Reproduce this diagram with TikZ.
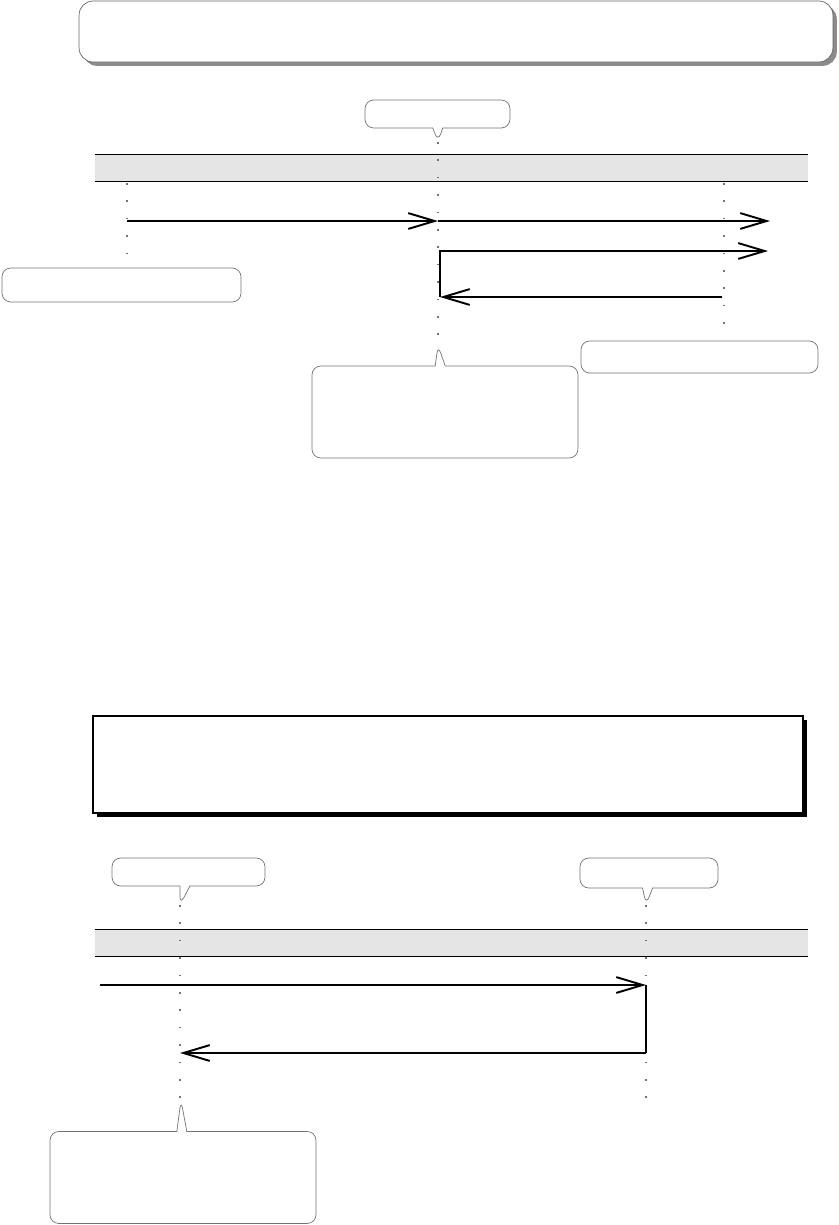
\documentclass[tikz,border=0pt]{standalone}
\usepackage{tikz}
\usetikzlibrary{positioning,arrows.meta,shapes.callouts,shadows}

\begin{document}
\begin{tikzpicture}[
  x=0.02cm, y=-0.02cm,
  banner/.style={draw=black!60, fill=white, rounded corners=8pt, inner sep=0pt,
                 drop shadow={shadow xshift=2.2pt, shadow yshift=-2.2pt, fill=black!45, opacity=1}},
  plainbox/.style={draw=black, line width=0.7pt, fill=white, inner sep=0pt,
                   drop shadow={shadow xshift=2.4pt, shadow yshift=-2.4pt, fill=black, opacity=1}},
  note/.style={draw=black!55, fill=white, rounded corners=5pt, inner sep=0pt},
  callnote/.style={note, rectangle callout, callout pointer width=0.2cm},
  band/.style={fill=black!10, inner sep=0pt},
  life/.style={draw=black!55, line width=0.9pt, dash pattern=on 0.9pt off 9pt},
  msg/.style={-{Straight Barb[length=15pt,width=9pt,line width=1.1pt]}, line width=1.3pt},
  >=Stealth,
]
\useasboundingbox (0,0) rectangle (839,1225);

% ---- upper diagram
\node[banner, minimum width=15.08cm, minimum height=1.22cm] (title) at (456,31.5) {};

\coordinate (tipB) at (438,142);
\node[callnote, callout absolute pointer={(tipB)}, minimum width=2.9cm, minimum height=0.56cm] (noteB) at (437.5,114) {};

\node[band, minimum width=14.26cm, minimum height=0.52cm] (band1) at (451.5,168) {};
\draw[line width=0.9pt] (band1.north west) -- (band1.north east);
\draw[line width=0.9pt] (band1.south west) -- (band1.south east);

\coordinate (la0) at (127,183); \coordinate (la1) at (127,265);
\coordinate (lb0) at (438,142); \coordinate (lb1) at (438,345);
\coordinate (lc0) at (724,183); \coordinate (lc1) at (724,338);
\draw[life] (la0) -- (la1);
\draw[life] (lb0) -- (lb1);
\draw[life] (lc0) -- (lc1);

\node[note, minimum width=4.78cm, minimum height=0.68cm] (noteA) at (121.5,285) {};
\node[note, minimum width=4.74cm, minimum height=0.64cm] (noteC) at (699.5,357) {};
\node[callnote, callout absolute pointer={(lb1)}, minimum width=5.32cm, minimum height=1.84cm] (noteD) at (445,412) {};

\coordinate (a1) at (127,221); \coordinate (b1) at (438,221); \coordinate (out1) at (770,221);
\coordinate (b2) at (440,297); \coordinate (out2) at (768,251); \coordinate (c2) at (722,297);
\draw[msg] (a1) -- (b1);
\draw[msg] (b1) -- (out1);
\draw[msg] (b2) |- (out2);
\draw[msg] (c2) -- (b2);

% ---- lower diagram
\node[plainbox, minimum width=14.2cm, minimum height=1.94cm] (box2) at (448,764.5) {};

\coordinate (tipE) at (180,905); \coordinate (tipF) at (646,905);
\node[callnote, callout absolute pointer={(tipE)}, minimum width=3.06cm, minimum height=0.56cm] (noteE) at (188.5,872) {};
\node[callnote, callout absolute pointer={(tipF)}, minimum width=2.76cm, minimum height=0.6cm] (noteF) at (649,873) {};

\node[band, minimum width=14.26cm, minimum height=0.52cm] (band2) at (451.5,943) {};
\draw[line width=0.9pt] (band2.north west) -- (band2.north east);
\draw[line width=0.9pt] (band2.south west) -- (band2.south east);

\coordinate (le1) at (180,1125); \coordinate (lf1) at (646,1105);
\draw[life] (tipE) -- (le1);
\draw[life] (tipF) -- (lf1);

\coordinate (in5) at (100,985); \coordinate (f5) at (646,985);
\coordinate (f6) at (646,1053); \coordinate (e6) at (180,1053);
\draw[msg] (in5) -- (f5);
\draw[line width=0.7pt] (f5) -- (f6);
\draw[msg] (f6) -- (e6);

\coordinate (tipG) at (181,1100);
\node[callnote, callout absolute pointer={(tipG)}, minimum width=5.32cm, minimum height=1.84cm] (noteG) at (183,1177.5) {};
\end{tikzpicture}
\end{document}
